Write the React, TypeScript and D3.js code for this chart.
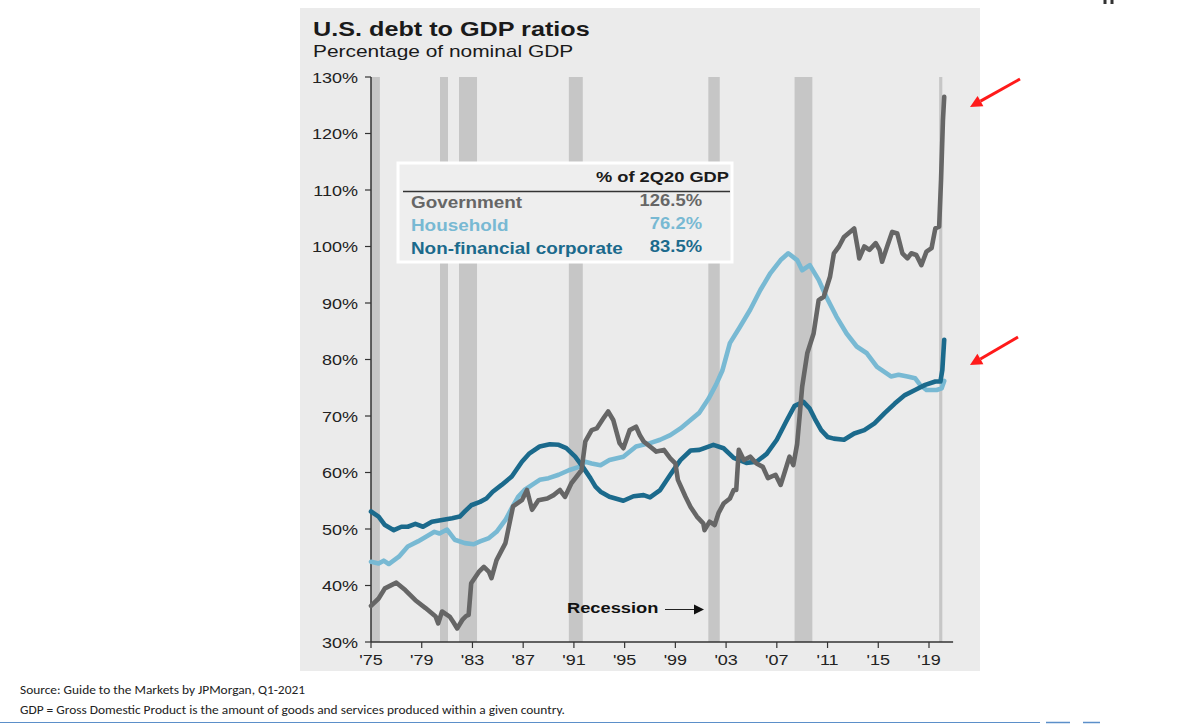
import React from "react";
import * as d3 from "d3";

const govData: [number, number][] = [
  [1975.0, 36.4], [1975.6, 37.7], [1976.1, 39.5], [1977.0, 40.5], [1977.7, 39.2], [1978.5, 37.4],
  [1979.3, 36.0], [1980.1, 34.5], [1980.3, 33.3], [1980.6, 35.4], [1981.2, 34.5], [1981.5, 33.5],
  [1981.8, 32.4], [1982.2, 33.9], [1982.5, 34.6], [1982.7, 34.8], [1982.9, 40.4], [1983.5, 42.4],
  [1983.9, 43.3], [1984.3, 42.4], [1984.5, 41.3], [1984.9, 44.5], [1985.6, 47.5], [1986.2, 54.0],
  [1986.9, 55.1], [1987.3, 56.9], [1987.7, 53.4], [1988.2, 55.1], [1988.9, 55.4], [1989.4, 56.0],
  [1989.9, 56.9], [1990.3, 55.7], [1990.8, 58.1], [1991.6, 60.4], [1991.9, 65.5], [1992.4, 67.5],
  [1992.8, 67.8], [1993.3, 69.5], [1993.7, 70.8], [1994.1, 69.3], [1994.6, 65.2], [1994.9, 64.3],
  [1995.4, 67.5], [1995.9, 68.1], [1996.2, 66.6], [1996.5, 65.5], [1997.0, 64.6], [1997.5, 63.7],
  [1998.1, 64.0], [1998.6, 62.5], [1999.0, 61.6], [1999.2, 58.7], [1999.8, 55.7], [2000.2, 53.9],
  [2000.7, 52.2], [2001.2, 51.0], [2001.3, 49.8], [2001.7, 51.3], [2002.1, 50.7], [2002.4, 52.8],
  [2002.8, 54.5], [2003.3, 55.4], [2003.6, 56.9], [2003.8, 56.9], [2004.0, 64.0], [2004.4, 62.2],
  [2004.9, 62.8], [2005.4, 61.6], [2005.9, 61.0], [2006.3, 59.0], [2006.9, 59.6], [2007.3, 57.8],
  [2007.6, 59.9], [2008.0, 62.8], [2008.3, 61.3], [2008.6, 65.0], [2008.8, 70.0], [2009.0, 75.2],
  [2009.4, 81.1], [2009.9, 84.6], [2010.3, 90.5], [2010.7, 91.1], [2011.2, 94.7], [2011.5, 98.8],
  [2011.9, 100.0], [2012.3, 101.7], [2013.1, 103.2], [2013.4, 99.4], [2013.5, 97.9], [2013.9, 100.0],
  [2014.3, 99.4], [2014.8, 100.6], [2015.1, 99.4], [2015.3, 97.3], [2015.7, 100.0], [2016.1, 102.6],
  [2016.5, 102.3], [2016.9, 98.8], [2017.3, 97.9], [2017.6, 98.8], [2018.0, 98.5], [2018.4, 96.7],
  [2018.8, 99.1], [2019.2, 99.7], [2019.5, 103.2], [2019.8, 103.5], [2019.95, 111.8], [2020.1, 122.4],
  [2020.2, 126.5],
];

const householdData: [number, number][] = [
  [1975.0, 44.2], [1975.6, 43.9], [1976.0, 44.4], [1976.4, 43.8], [1977.2, 45.1], [1977.9, 46.9],
  [1978.7, 47.8], [1979.4, 48.7], [1980.0, 49.5], [1980.4, 49.2], [1981.0, 49.9], [1981.6, 48.1],
  [1982.4, 47.5], [1983.1, 47.3], [1983.6, 47.8], [1984.3, 48.4], [1984.9, 49.5], [1985.6, 51.6],
  [1986.1, 53.7], [1986.6, 55.7], [1987.1, 56.9], [1987.7, 57.8], [1988.3, 58.7], [1989.0, 59.0],
  [1989.8, 59.6], [1990.6, 60.4], [1991.4, 61.0], [1991.9, 61.9], [1992.4, 61.6], [1993.1, 61.3],
  [1993.8, 62.2], [1994.9, 62.8], [1995.9, 64.6], [1997.0, 65.2], [1997.8, 65.8], [1998.6, 66.6],
  [1999.4, 67.8], [2000.2, 69.3], [2000.9, 70.6], [2001.6, 73.0], [2002.2, 75.5], [2002.7, 78.0],
  [2003.3, 82.9], [2004.1, 85.8], [2004.9, 88.8], [2005.7, 92.3], [2006.5, 95.3], [2007.3, 97.6],
  [2007.9, 98.8], [2008.6, 97.6], [2009.0, 95.8], [2009.6, 96.7], [2010.3, 94.1], [2010.9, 91.1],
  [2011.7, 87.6], [2012.5, 84.6], [2013.3, 82.3], [2014.1, 81.1], [2014.9, 78.7], [2016.0, 77.0],
  [2016.6, 77.3], [2017.3, 77.0], [2017.9, 76.7], [2018.3, 75.5], [2018.8, 74.6], [2019.6, 74.6],
  [2020.0, 74.9], [2020.2, 76.2],
];

const corporateData: [number, number][] = [
  [1975.0, 53.1], [1975.6, 52.2], [1976.1, 50.7], [1976.8, 49.8], [1977.4, 50.4], [1977.9, 50.4],
  [1978.5, 50.9], [1979.1, 50.4], [1979.8, 51.3], [1980.6, 51.6], [1981.4, 51.9], [1982.0, 52.2],
  [1982.4, 53.1], [1982.9, 54.2], [1983.6, 54.8], [1984.1, 55.4], [1984.6, 56.6], [1985.3, 57.8],
  [1986.1, 59.3], [1986.9, 61.9], [1987.5, 63.4], [1988.3, 64.6], [1989.1, 65.0], [1989.8, 64.9],
  [1990.4, 64.3], [1991.1, 62.8], [1991.7, 61.0], [1992.3, 59.0], [1992.7, 57.5], [1993.1, 56.6],
  [1993.8, 55.7], [1994.9, 55.0], [1995.7, 55.8], [1996.5, 56.0], [1997.0, 55.6], [1997.8, 56.9],
  [1998.6, 59.6], [1999.4, 62.2], [2000.2, 63.9], [2000.9, 64.0], [2002.0, 64.9], [2002.8, 64.3],
  [2003.6, 62.6], [2004.6, 61.7], [2005.4, 61.9], [2006.2, 63.3], [2007.0, 65.8], [2007.8, 69.3],
  [2008.4, 71.8], [2009.1, 72.5], [2009.6, 71.3], [2010.0, 69.5], [2010.5, 67.5], [2011.0, 66.3],
  [2011.5, 66.0], [2012.3, 65.8], [2013.1, 66.9], [2013.9, 67.5], [2014.7, 68.7], [2015.5, 70.5],
  [2016.3, 72.2], [2017.1, 73.7], [2017.9, 74.6], [2018.7, 75.5], [2019.5, 76.1], [2019.9, 76.1],
  [2020.05, 78.1], [2020.2, 83.5],
];

const recessions: [number, number][] = [
  [1975.0, 1975.7], [1980.44, 1981.07], [1981.94, 1983.36], [1990.6, 1991.7],
  [2001.6, 2002.5], [2008.4, 2009.8], [2019.8, 2020.05],
];

const xTickYears = [1975, 1979, 1983, 1987, 1991, 1995, 1999, 2003, 2007, 2011, 2015, 2019];
const xTickLabels = ["'75", "'79", "'83", "'87", "'91", "'95", "'99", "'03", "'07", "'11", "'15", "'19"];
const yTicks = [30, 40, 50, 60, 70, 80, 90, 100, 110, 120, 130];

const legendNames = ["Government", "Household", "Non-financial corporate"];
const legendValues = ["126.5%", "76.2%", "83.5%"];
const legendColors = ["#666666", "#78b9d3", "#1b6a8c"];

const FONT = "'Liberation Sans', Arial, sans-serif";

function T(props: any) {
  const { x, y, sx = 1.2, anchor = "start", size, weight = "normal", fill = "#222", family = FONT, children } = props;
  return (
    <text
      transform={`translate(${x},${y}) scale(${sx},1)`}
      textAnchor={anchor}
      fontSize={size}
      fontWeight={weight}
      fill={fill}
      fontFamily={family}
    >
      {children}
    </text>
  );
}

export default function App() {
  const x = d3.scaleLinear().domain([1975, 2019]).range([371, 929]);
  const y = d3.scaleLinear().domain([30, 130]).range([642, 77]);
  const line = d3
    .line<[number, number]>()
    .x((d) => x(d[0]))
    .y((d) => y(d[1]))
    .curve(d3.curveLinear);

  const axisEnd = x(2020.9);
  const series = [
    { data: householdData, color: legendColors[1] },
    { data: corporateData, color: legendColors[2] },
    { data: govData, color: legendColors[0] },
  ];

  return (
    <svg
      width={1180}
      height={727}
      style={{ position: "absolute", left: 0, top: 0, background: "#ffffff" }}
    >
      <rect x={0} y={0} width={1180} height={727} fill="#ffffff" />
      {/* panel */}
      <rect x={300} y={8} width={680} height={663} fill="#ebebeb" />

      <T x={313} y={36} size={21} weight="bold" fill="#1a1a1a">U.S. debt to GDP ratios</T>
      <T x={313} y={57} size={17} fill="#1a1a1a" sx={1.23}>Percentage of nominal GDP</T>

      {/* recession bars */}
      {recessions.map(([a, b], i) => (
        <rect key={i} x={x(a)} y={y(130)} width={x(b) - x(a)} height={y(30) - y(130)} fill="#c6c6c6" />
      ))}

      {/* axes */}
      <line x1={x(1975)} x2={x(1975)} y1={y(130)} y2={y(30)} stroke="#333" strokeWidth={1.5} />
      <line x1={x(1975)} x2={axisEnd} y1={y(30)} y2={y(30)} stroke="#333" strokeWidth={1.5} />
      {yTicks.map((v) => (
        <g key={v}>
          <line x1={x(1975) - 6} x2={x(1975)} y1={y(v)} y2={y(v)} stroke="#333" strokeWidth={1.2} />
          <T x={358} y={y(v) + 5.5} size={15} anchor="end" fill="#222" sx={1.2}>{`${v}%`}</T>
        </g>
      ))}
      {xTickYears.map((yr, i) => (
        <g key={yr}>
          <line x1={x(yr)} x2={x(yr)} y1={y(30)} y2={y(30) + 6} stroke="#333" strokeWidth={1.2} />
          <T x={x(yr)} y={665} size={15} anchor="middle" fill="#222" sx={1.2}>{xTickLabels[i]}</T>
        </g>
      ))}

      {/* legend box */}
      <rect x={398} y={163} width={334} height={99} fill="#eeeeee" stroke="#ffffff" strokeWidth={3} />
      <T x={729} y={182} size={15.5} weight="bold" anchor="end" fill="#1a1a1a" sx={1.18}>% of 2Q20 GDP</T>
      <line x1={403} x2={730} y1={191.5} y2={191.5} stroke="#333" strokeWidth={1.5} />
      {legendNames.map((n, i) => (
        <g key={n}>
          <T x={411} y={208 + i * 23} size={16} weight="bold" fill={legendColors[i]} sx={1.18}>{n}</T>
          <T x={702} y={206 + i * 23} size={16} weight="bold" anchor="end" fill={legendColors[i]} sx={1.15}>{legendValues[i]}</T>
        </g>
      ))}

      {/* series */}
      {series.map((s, i) => (
        <path
          key={i}
          d={line(s.data) || ""}
          fill="none"
          stroke={s.color}
          strokeWidth={4.6}
          strokeLinejoin="round"
          strokeLinecap="round"
        />
      ))}

      {/* recession label */}
      <T x={567} y={613} size={15.5} weight="bold" fill="#111" sx={1.18}>Recession</T>
      <line x1={665} x2={695} y1={609.5} y2={609.5} stroke="#222" strokeWidth={1} />
      <polygon points="694,604.5 704,609.5 694,614.5" fill="#111" />

      {/* red arrows */}
      <line x1={1020} y1={79} x2={980.5} y2={101.1} stroke="#ff1a1a" strokeWidth={3} />
      <polygon points="970,107 983.4,106.3 977.6,95.9" fill="#ff1a1a" />
      <line x1={1018} y1={337} x2={980.4} y2={359} stroke="#ff1a1a" strokeWidth={3} />
      <polygon points="970,365 983.4,364.2 977.4,353.8" fill="#ff1a1a" />

      {/* top right mark */}
      <rect x={1103.5} y={0} width={3} height={4} fill="#333" />
      <rect x={1110.5} y={0} width={3} height={4} fill="#333" />

      {/* source */}
      <text x={20} y={694} fontSize={12.5} fontFamily="Carlito, Lato, 'Open Sans', sans-serif" fill="#222" textLength={285} lengthAdjust="spacingAndGlyphs">
        Source: Guide to the Markets by JPMorgan, Q1-2021
      </text>
      <text x={20} y={714} fontSize={11.5} fontFamily="Carlito, Lato, 'Open Sans', sans-serif" fill="#222" textLength={545} lengthAdjust="spacingAndGlyphs">
        GDP = Gross Domestic Product is the amount of goods and services produced within a given country.
      </text>
      <line x1={0} x2={1040} y1={722.5} y2={722.5} stroke="#5b8fc9" strokeWidth={1} />
      <line x1={1046} x2={1070} y1={722.5} y2={722.5} stroke="#5b8fc9" strokeWidth={1.5} />
      <line x1={1083} x2={1100} y1={722.5} y2={722.5} stroke="#5b8fc9" strokeWidth={1.5} />
    </svg>
  );
}
